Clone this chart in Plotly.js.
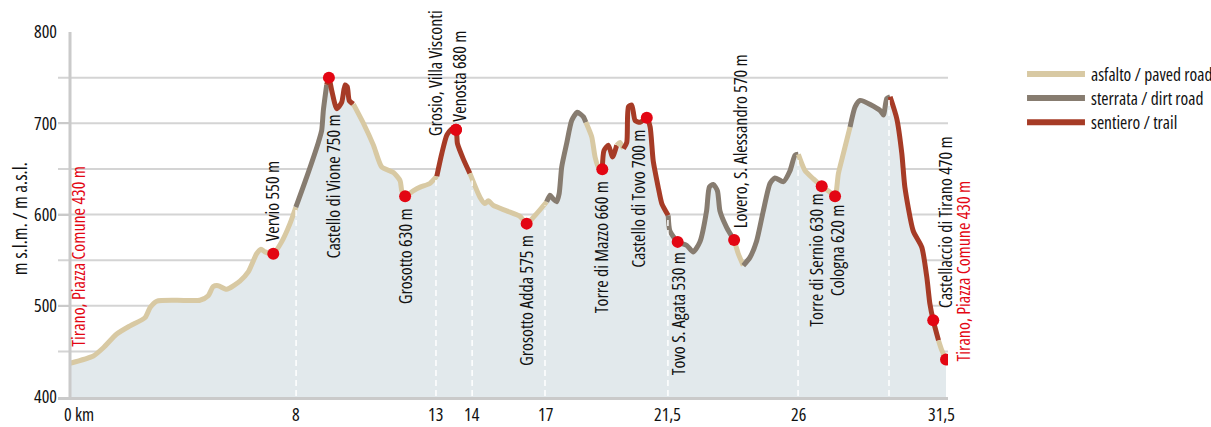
<!DOCTYPE html>
<html>
<head>
<meta charset="utf-8">
<script src="https://cdn.plot.ly/plotly-3.0.1.min.js"></script>
<style>
  html, body { margin: 0; padding: 0; background: #ffffff; }
  #chart { width: 1211px; height: 427px; }
  svg text { font-stretch: condensed; }
</style>
</head>
<body>
<div id="chart"></div>
<script>
// ---------- DATA ----------
const profileKm = [
  0, 0.84, 1.20, 1.68, 2.16, 2.70, 2.88, 3.12, 3.84, 4.67, 4.97, 5.15, 5.33, 5.63, 6.11, 6.41, 6.71, 6.87, 7.01, 7.31, 7.61, 7.91, 8.12,
  8.51, 8.93, 9.05, 9.11, 9.23,
  9.31, 9.41, 9.59, 9.77, 9.89, 9.97, 10.04, 10.19,
  10.55, 10.91, 11.21, 11.63, 11.87, 11.93, 12.05, 12.34, 12.59, 12.94, 13.19,
  13.37, 13.55, 13.73, 13.88, 13.93, 14.14, 14.38,
  14.74, 14.92, 15.04, 15.22, 15.70, 16.18, 16.42, 16.78, 17.14,
  17.26, 17.38, 17.50, 17.59, 17.68, 17.86, 18.04, 18.24, 18.46, 18.55,
  18.76, 18.88, 19.00, 19.14,
  19.20, 19.36, 19.51, 19.66,
  19.78, 19.90,
  20.02, 20.08, 20.20, 20.32, 20.50, 20.74, 20.86, 20.97, 21.15, 21.28, 21.51,
  21.57, 21.85, 22.18, 22.41, 22.65, 22.89, 22.99, 23.13, 23.28, 23.37, 23.61, 23.88,
  24.03, 24.21,
  24.45, 24.69, 24.93, 25.17, 25.35, 25.65, 25.89, 26.07, 26.19,
  26.43, 26.73, 27.03, 27.33, 27.51, 27.63, 27.81, 28.05,
  28.23, 28.41, 29.13, 29.25, 29.37, 29.49,
  29.73, 29.91, 30.02, 30.32, 30.63, 30.81, 30.92, 31.04, 31.23,
  31.35, 31.5
];
const profileElev = [
  437, 445, 454, 469, 478, 487, 498, 505, 506, 506, 511, 521, 522, 518, 527, 537, 557, 562, 559, 557, 570, 590, 608,
  641, 679, 692, 714, 742,
  750, 736, 716, 723, 742, 740, 725, 721,
  700, 676, 652, 646, 637, 626, 620, 626, 630, 634, 642,
  667, 687, 694, 693, 678, 661, 645,
  619, 612, 615, 610, 604, 598, 590, 601, 614,
  621, 617, 614, 623, 652, 678, 703, 712, 707, 701,
  685, 663, 652, 649.5,
  670, 676, 663, 676,
  679, 672,
  679, 718, 720, 703, 701, 706, 696, 659, 630, 612, 599,
  582, 570, 566, 559, 570, 604, 630, 633, 626, 604, 586, 572,
  557, 544,
  553, 571, 604, 634, 640, 636, 648, 665, 666,
  648, 639, 631, 624.5, 620, 645, 667, 696,
  718, 725, 714, 709, 727, 729,
  705, 667, 630, 582, 564, 531, 502, 484, 462,
  451, 441
];
const surfaceBreakKm = [8.12, 9.23, 10.19, 13.19, 14.38, 17.14, 18.55, 19.14, 19.66, 19.90, 21.51, 23.88, 24.21, 26.19, 28.05, 29.49, 31.23];
const surfaceType = ['paved', 'dirt', 'trail', 'paved', 'trail', 'paved', 'dirt', 'paved', 'trail', 'paved',
                     'trail', 'dirt', 'paved', 'dirt', 'paved', 'dirt', 'trail', 'paved'];
const surfaceNames = { paved: 'asfalto / paved road', dirt: 'sterrata / dirt road', trail: 'sentiero / trail' };

const stopKm   = [7.31, 9.31, 12.05, 13.88, 13.88, 16.42, 19.14, 20.74, 21.85, 23.88, 27.03, 27.51, 31.04, 31.5];
const stopElev = [557, 750, 620, 693, 693, 590, 649.5, 706, 570, 572, 631, 620, 484, 441];
const stopLabel = ['Vervio 550 m', 'Castello di Vione 750 m', 'Grosotto 630 m', 'Grosio, Villa Visconti', 'Venosta 680 m',
                   'Grosotto Adda 575 m', 'Torre di Mazzo 660 m', 'Castello di Tovo 700 m', 'Tovo S. Agata 530 m',
                   'Lovero, S. Alessandro 570 m', 'Torre di Sernio 630 m', 'Cologna 620 m',
                   'Castellaccio di Tirano 470 m', 'Tirano, Piazza Comune 430 m'];
const startLabel = 'Tirano, Piazza Comune 430 m';

const tickKm   = [0, 8.13, 13.16, 14.46, 17.08, 21.5, 26.18, 31.5];
const tickText = ['0 km', '8', '13', '14', '17', '21,5', '26', '31,5'];
const guideKm  = [8.13, 13.16, 14.46, 17.08, 21.5, 26.18, 29.45];
const elevTicks = [400, 500, 600, 700, 800];
const elevGrid  = [450, 500, 550, 600, 650, 700, 750];

// ---------- STYLE ----------
const FONT = '"Open Sans", sans-serif';
const FS_LABEL = 18, FS_TICK = 18, FS_LEG = 17.5, FS_TITLE = 19;
const colors = { paved: '#d8c9a3', dirt: '#877c70', trail: '#a63b26' };
const RED = '#e30613';
const FILL = '#e2e9ec';
const labelPlace = [
  [-1, 11, 'bottom'], [4, -36, 'top'], [0, -11, 'top'], [-21.5, -8, 'bottom'], [3.5, 7, 'bottom'],
  [-0.7, -10, 'top'], [-1.3, -11, 'top'], [-8.7, -11, 'top'], [0.3, -9, 'top'],
  [6, 11, 'bottom'], [-5.7, -7, 'top'], [2, -7, 'top'], [11.7, 11, 'bottom'], [17.3, -3, 'bottom']
];

// ---------- BUILD ----------
function interpElev(km) {
  for (let i = 0; i < profileKm.length - 1; i++) {
    if (km >= profileKm[i] && km <= profileKm[i + 1]) {
      const t = (km - profileKm[i]) / (profileKm[i + 1] - profileKm[i]);
      return profileElev[i] + t * (profileElev[i + 1] - profileElev[i]);
    }
  }
  return profileElev[profileElev.length - 1];
}

const traces = [];
traces.push({
  x: profileKm, y: profileElev, type: 'scatter', mode: 'lines',
  line: { width: 0, shape: 'spline', smoothing: 0.6 }, fill: 'tozeroy', fillcolor: FILL,
  hoverinfo: 'skip', showlegend: false
});

const bounds = [0].concat(surfaceBreakKm).concat([31.5]);
for (let s = 0; s < surfaceType.length; s++) {
  const xs = [], ys = [];
  for (let i = 0; i < profileKm.length; i++) {
    if (profileKm[i] >= bounds[s] - 1e-9 && profileKm[i] <= bounds[s + 1] + 1e-9) {
      xs.push(profileKm[i]); ys.push(profileElev[i]);
    }
  }
  traces.push({
    x: xs, y: ys, type: 'scatter', mode: 'lines', name: surfaceNames[surfaceType[s]],
    line: { color: colors[surfaceType[s]], width: 5, shape: 'spline', smoothing: 0.6 },
    showlegend: false, hoverinfo: 'skip'
  });
}

traces.push({
  x: stopKm, y: stopElev, type: 'scatter', mode: 'markers',
  marker: { color: RED, size: 12, line: { width: 0 } }, showlegend: false, hoverinfo: 'skip'
});

const shapes = [];
elevGrid.forEach(v => shapes.push({
  type: 'line', xref: 'paper', yref: 'y', x0: 0, x1: 1, y0: v, y1: v,
  line: { color: '#d4d4d4', width: 2 }, layer: 'below'
}));
shapes.push({ type: 'line', xref: 'x', yref: 'y', x0: 0, x1: 0, y0: 400, y1: 800,
  line: { color: '#cacaca', width: 3 }, layer: 'above' });
guideKm.forEach(k => shapes.push({
  type: 'line', xref: 'x', yref: 'y', x0: k, x1: k, y0: 401, y1: interpElev(k) - 2,
  line: { color: '#ffffff', width: 1.5, dash: '6px,4px' }, layer: 'above'
}));

const annotations = [];
stopLabel.forEach((t, i) => {
  const p = labelPlace[i];
  const isEnd = i === stopLabel.length - 1;
  annotations.push({
    x: stopKm[i], y: stopElev[i], xref: 'x', yref: 'y', text: t, showarrow: false,
    textangle: -90, xanchor: 'center', yanchor: p[2], xshift: p[0], yshift: p[1], borderpad: 0,
    font: { family: FONT, size: FS_LABEL, color: isEnd ? RED : '#111111' }
  });
});
annotations.push({
  x: profileKm[0], y: profileElev[0], xref: 'x', yref: 'y', text: startLabel, showarrow: false,
  textangle: -90, xanchor: 'center', yanchor: 'bottom', xshift: 8, yshift: 15, borderpad: 0,
  font: { family: FONT, size: FS_LABEL, color: RED }
});
tickKm.forEach((k, i) => annotations.push({
  x: k, y: 400, xref: 'x', yref: 'y', text: tickText[i], showarrow: false,
  xanchor: i === 0 ? 'left' : 'center', yanchor: 'bottom', borderpad: 0,
  xshift: i === 0 ? -7 : (i === tickKm.length - 1 ? -5 : 0), yshift: -29.5,
  font: { family: FONT, size: FS_TICK, color: '#111111' }
}));
annotations.push({
  x: -0.0427, y: 0.49, xref: 'paper', yref: 'paper', text: 'm s.l.m. / m a.s.l.', showarrow: false,
  textangle: -90, xanchor: 'center', yanchor: 'middle',
  font: { family: FONT, size: FS_TITLE, color: '#111111' }
});
const legendOrder = ['paved', 'dirt', 'trail'];
const legendY = [0.885, 0.819, 0.753];
legendOrder.forEach((k, i) => {
  shapes.push({ type: 'line', xref: 'paper', yref: 'paper', x0: 1.0888, x1: 1.1539, y0: legendY[i], y1: legendY[i],
    line: { color: colors[k], width: 6 } });
  annotations.push({ x: 1.1596, y: legendY[i], xref: 'paper', yref: 'paper', text: surfaceNames[k],
    showarrow: false, xanchor: 'left', yanchor: 'middle', borderpad: 0,
    font: { family: FONT, size: FS_LEG, color: '#111111' } });
});

const layout = {
  width: 1211, height: 427,
  margin: { l: 58, r: 263, t: 32, b: 30 },
  paper_bgcolor: '#ffffff', plot_bgcolor: 'rgba(0,0,0,0)',
  showlegend: false,
  xaxis: {
    range: [-0.4315, 31.571], showgrid: false, zeroline: false, showticklabels: false, ticks: '',
    showline: true, linecolor: '#cacaca', linewidth: 3, fixedrange: true
  },
  yaxis: {
    range: [400, 800], showgrid: false, zeroline: false, tickvals: elevTicks,
    ticks: 'inside', ticklen: 12, tickwidth: 2, tickcolor: '#cacaca',
    tickfont: { family: FONT, size: FS_TICK, color: '#111111' }, ticklabelstandoff: 0, fixedrange: true
  },
  shapes: shapes, annotations: annotations
};

Plotly.newPlot('chart', traces, layout, { displayModeBar: false, staticPlot: true });
</script>
</body>
</html>
